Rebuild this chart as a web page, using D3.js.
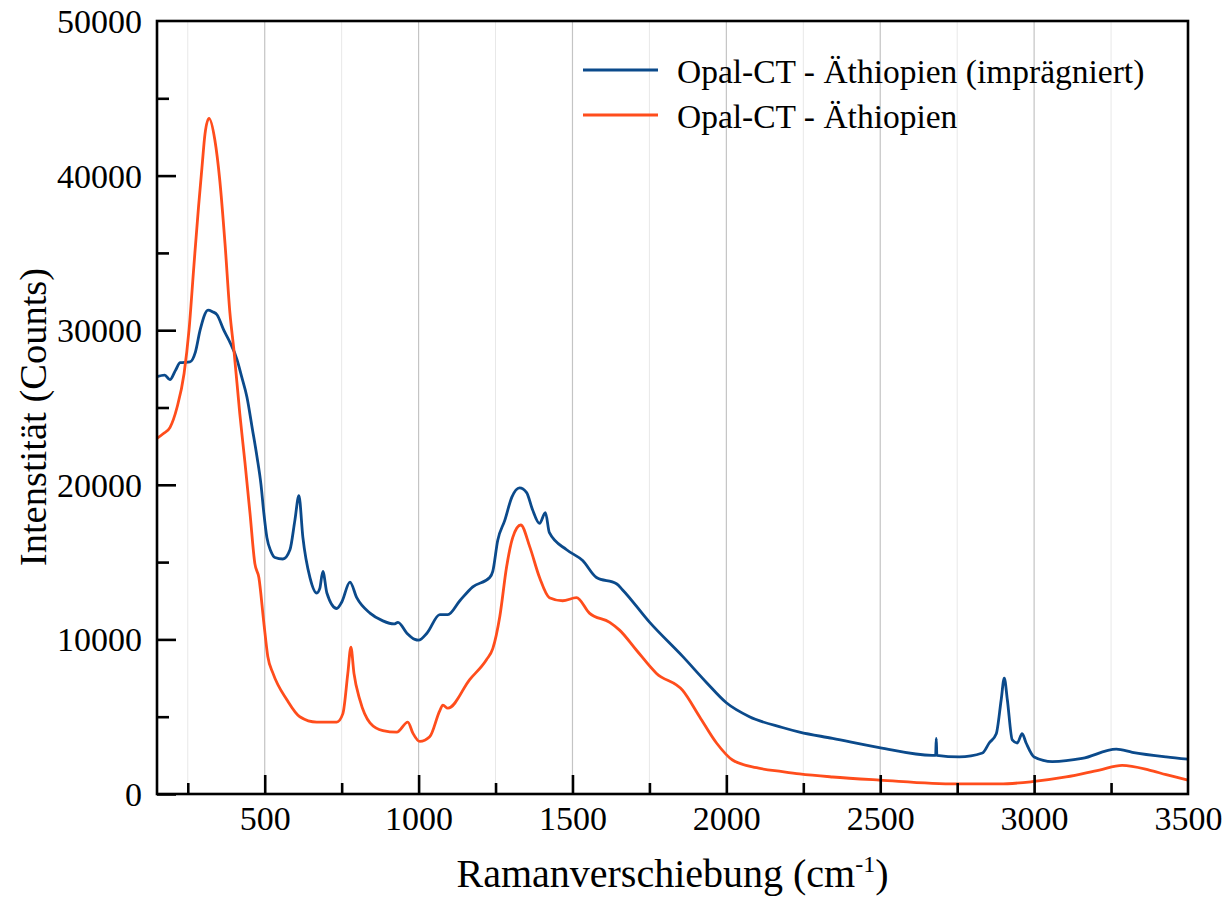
<!DOCTYPE html>
<html>
<head>
<meta charset="utf-8">
<script src="https://cdn.jsdelivr.net/npm/d3@7"></script>
<style>
  body { margin: 0; background: #fff; }
  svg { display: block; }
</style>
</head>
<body>
<div id="chart"></div>
<script>
const WIDTH = 1227;
const HEIGHT = 897;

// Opal-CT - Äthiopien (imprägniert)
const shiftImpregnated = [150, 175, 192, 210, 225, 257, 275, 290, 316, 330, 345, 367, 385, 410, 425, 442, 460, 475, 488, 497, 507, 520, 533, 559, 582, 598, 611, 624, 647, 669, 679, 689, 702, 734, 750, 777, 799, 842, 884, 920, 933, 962, 988, 1000, 1027, 1069, 1095, 1134, 1176, 1231, 1241, 1257, 1280, 1303, 1328, 1351, 1370, 1393, 1412, 1425, 1481, 1533, 1578, 1643, 1663, 1751, 1858, 1936, 2000, 2075, 2182, 2238, 2345, 2497, 2669, 2680, 2682, 2684, 2757, 2832, 2854, 2877, 2893, 2903, 2913, 2929, 2945, 2961, 2974, 3000, 3059, 3156, 3267, 3319, 3429, 3500];
const countsImpregnated = [27000, 27100, 26800, 27400, 27900, 27950, 28600, 30000, 31300, 31200, 31000, 30000, 29300, 28100, 27000, 25700, 23600, 21800, 20000, 18200, 16600, 15700, 15300, 15200, 15800, 17700, 19300, 16600, 14000, 13000, 13300, 14400, 13000, 12000, 12400, 13700, 12700, 11700, 11200, 11000, 11100, 10400, 10000, 9950, 10400, 11600, 11600, 12500, 13400, 14000, 14400, 16400, 17700, 19200, 19800, 19500, 18400, 17500, 18200, 16900, 15800, 15100, 14000, 13600, 13200, 11100, 8900, 7200, 5900, 5000, 4300, 4000, 3600, 3000, 2500, 2500, 3600, 2500, 2400, 2650, 3300, 3900, 6100, 7500, 6100, 3500, 3300, 3900, 3300, 2400, 2100, 2300, 2900, 2700, 2400, 2250];

// Opal-CT - Äthiopien
const shiftNatural = [150, 170, 192, 215, 238, 254, 270, 285, 296, 306, 319, 338, 354, 371, 387, 400, 419, 436, 452, 468, 481, 497, 510, 527, 572, 614, 669, 734, 754, 770, 780, 790, 809, 842, 884, 929, 965, 981, 1004, 1036, 1069, 1079, 1095, 1166, 1221, 1241, 1264, 1286, 1306, 1332, 1361, 1393, 1425, 1468, 1513, 1555, 1621, 1653, 1708, 1773, 1858, 1913, 1968, 2020, 2098, 2182, 2238, 2345, 2497, 2747, 2887, 2994, 3104, 3212, 3286, 3374, 3429, 3500];
const countsNatural = [23000, 23300, 23700, 25000, 27200, 30000, 34200, 38000, 40500, 42700, 43700, 42300, 39700, 35600, 31100, 28700, 24600, 21400, 18200, 14900, 14000, 11100, 8900, 7800, 6100, 5000, 4650, 4650, 5200, 7800, 9500, 7800, 6100, 4600, 4100, 4000, 4650, 3950, 3400, 3700, 5400, 5750, 5550, 7400, 8700, 9400, 11500, 14700, 16600, 17400, 16000, 14000, 12700, 12500, 12700, 11700, 11100, 10600, 9300, 7800, 6700, 5000, 3300, 2200, 1700, 1450, 1300, 1100, 900, 650, 650, 800, 1100, 1550, 1850, 1550, 1250, 900];

const xMajorTicks = [500, 1000, 1500, 2000, 2500, 3000, 3500];
const xMinorTicks = [250, 750, 1250, 1750, 2250, 2750, 3250];
const yMajorTicks = [0, 10000, 20000, 30000, 40000, 50000];
const yMinorTicks = [5000, 15000, 25000, 35000, 45000];

const seriesNames = ['Opal-CT - Äthiopien (imprägniert)', 'Opal-CT - Äthiopien'];
const seriesColors = ['#0b4a8b', '#ff4d1c'];

const margin = {top: 21, right: 39, bottom: 103, left: 157};
const innerW = WIDTH - margin.left - margin.right;
const innerH = HEIGHT - margin.top - margin.bottom;
const FONT = "'Liberation Serif', 'Times New Roman', serif";

const svg = d3.select("#chart").append("svg")
    .attr("width", WIDTH)
    .attr("height", HEIGHT)
    .style("font-family", FONT);

const g = svg.append("g").attr("transform", `translate(${margin.left},${margin.top})`);

const xScale = d3.scaleLinear().domain([150, 3500]).range([0, innerW]);
const yScale = d3.scaleLinear().domain([0, 50000]).range([innerH, 0]);

// vertical grid
g.selectAll(".gminor").data(xMinorTicks).enter().append("line")
    .attr("x1", d => xScale(d)).attr("x2", d => xScale(d))
    .attr("y1", 0).attr("y2", innerH)
    .attr("stroke", "#e8e8e8").attr("stroke-width", 1);
g.selectAll(".gmajor").data(xMajorTicks.filter(d => d < 3500)).enter().append("line")
    .attr("x1", d => xScale(d)).attr("x2", d => xScale(d))
    .attr("y1", 0).attr("y2", innerH)
    .attr("stroke", "#c4c4c4").attr("stroke-width", 1.2);

// spectra
const line = d3.line()
    .x(d => xScale(d[0]))
    .y(d => yScale(d[1]))
    .curve(d3.curveMonotoneX);

const series = [
    d3.zip(shiftImpregnated, countsImpregnated),
    d3.zip(shiftNatural, countsNatural)
];

series.forEach((s, i) => {
    g.append("path")
        .datum(s)
        .attr("fill", "none")
        .attr("stroke", seriesColors[i])
        .attr("stroke-width", 2.8)
        .attr("stroke-linejoin", "round")
        .attr("d", line);
});

// axes, ticks inward
const xAxis = g.append("g").attr("transform", `translate(0,${innerH})`)
    .call(d3.axisBottom(xScale).tickValues(xMajorTicks).tickSize(-19).tickPadding(12).tickFormat(d3.format("d")));
const xMinor = g.append("g").attr("transform", `translate(0,${innerH})`)
    .call(d3.axisBottom(xScale).tickValues(xMinorTicks).tickSize(-11).tickFormat(""));
const yAxis = g.append("g")
    .call(d3.axisLeft(yScale).tickValues(yMajorTicks).tickSize(-19).tickPadding(15).tickFormat(d3.format("d")));
const yMinor = g.append("g")
    .call(d3.axisLeft(yScale).tickValues(yMinorTicks).tickSize(-12).tickFormat(""));

[xAxis, xMinor, yAxis, yMinor].forEach(a => {
    a.select(".domain").remove();
    a.selectAll(".tick line").attr("stroke", "#000").attr("stroke-width", 2.6);
    a.selectAll("text")
        .attr("fill", "#000")
        .style("font-family", FONT)
        .style("font-size", "34px");
});
xAxis.selectAll(".tick").filter(d => d === 3500).select("line").remove();
yAxis.selectAll(".tick").filter(d => d === 50000).select("line").remove();
yAxis.selectAll("text").attr("dy", "0.34em");

// frame
g.append("rect")
    .attr("x", 0).attr("y", 0)
    .attr("width", innerW).attr("height", innerH)
    .attr("fill", "none")
    .attr("stroke", "#000")
    .attr("stroke-width", 2.6);

// axis titles
const xTitle = svg.append("text")
    .attr("x", margin.left + innerW / 2)
    .attr("y", 887)
    .attr("text-anchor", "middle")
    .style("font-size", "40px");
xTitle.append("tspan").text("Ramanverschiebung (cm");
xTitle.append("tspan").attr("dy", -15).style("font-size", "24px").text("-1");
xTitle.append("tspan").attr("dy", 15).text(")");

svg.append("text")
    .attr("transform", `translate(46,417) rotate(-90)`)
    .attr("text-anchor", "middle")
    .style("font-size", "38.5px")
    .text("Intenstität (Counts)");

// legend
const legend = svg.append("g").attr("transform", "translate(583,70)");
const items = legend.selectAll("g").data(seriesNames).enter().append("g")
    .attr("transform", (d, i) => `translate(0,${i * 45})`);
items.append("line")
    .attr("x1", 0).attr("x2", 75)
    .attr("stroke", (d, i) => seriesColors[i])
    .attr("stroke-width", 2.8);
items.append("text")
    .attr("x", 94)
    .attr("y", 13)
    .style("font-size", "33.5px")
    .text(d => d);
</script>
</body>
</html>
